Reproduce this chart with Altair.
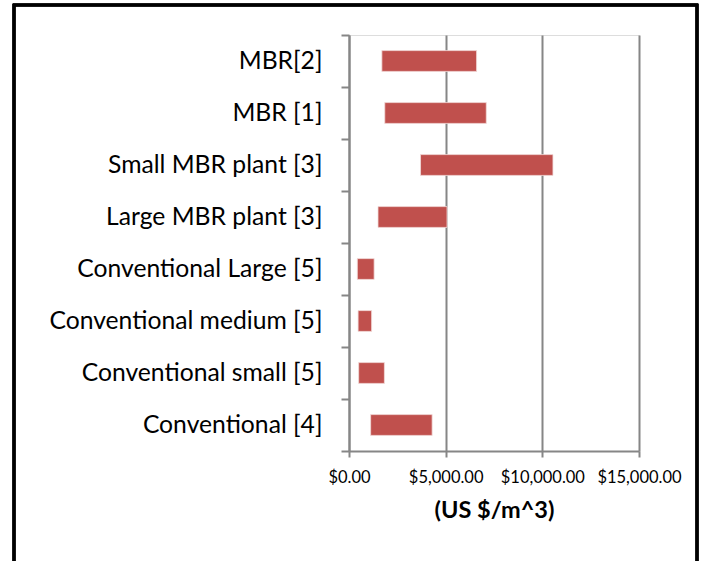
import altair as alt
import pandas as pd

# Capital cost ranges per plant type (US $/m^3)
categories = [
    "MBR[2]",
    "MBR [1]",
    "Small MBR plant [3]",
    "Large MBR plant [3]",
    "Conventional Large [5]",
    "Conventional medium [5]",
    "Conventional small [5]",
    "Conventional [4]",
]
cost_low = [1700, 1850, 3700, 1500, 430, 470, 500, 1120]
cost_high = [6600, 7100, 10550, 5070, 1300, 1170, 1830, 4300]

df = pd.DataFrame({"plant": categories, "low": cost_low, "high": cost_high})

FONT = "Lato"
GREY = "#868686"

bars = alt.Chart(df).mark_bar(
    color="#C0504D",
    stroke="#F2DCDB",
    strokeWidth=0.8,
    height=alt.RelativeBandSize(0.4),
).encode(
    y=alt.Y(
        "plant:N",
        sort=categories,
        scale=alt.Scale(paddingInner=0, paddingOuter=0),
        axis=alt.Axis(
            title=None,
            tickBand="extent",
            tickSize=8,
            tickColor=GREY,
            tickWidth=2,
            domainColor=GREY,
            domainWidth=2,
            labelFont=FONT,
            labelFontSize=24.7,
            labelColor="#000000",
            labelPadding=19,
            labelLimit=400,
            grid=False,
        ),
    ),
    x=alt.X(
        "low:Q",
        scale=alt.Scale(domain=[0, 15000], nice=False),
        axis=alt.Axis(
            title="(US $/m^3)",
            values=[0, 5000, 10000, 15000],
            format="$,.2f",
            tickSize=6,
            tickColor=GREY,
            tickWidth=2,
            domainColor=GREY,
            domainWidth=2,
            grid=True,
            gridColor=GREY,
            gridWidth=2,
            labelFont=FONT,
            labelFontSize=16.5,
            labelColor="#000000",
            labelPadding=12,
            labelOverlap=False,
            labelFlush=False,
            titleFont=FONT,
            titleFontSize=23.5,
            titleFontWeight="bold",
            titleColor="#000000",
            titlePadding=13,
        ),
    ),
    x2="high:Q",
)

# Outer frame around the whole figure
frame = alt.Chart(df).mark_rect(
    fill=None, stroke="#000000", strokeWidth=2.5, clip=False
).encode(
    x=alt.value(-335),
    x2=alt.value(348),
    y=alt.value(-30),
    y2=alt.value(540),
)

chart = alt.layer(bars, frame).properties(
    width=290,
    height=416,
    padding={"left": 349, "top": 35, "right": 67, "bottom": 110},
    autosize=alt.AutoSizeParams(type="none"),
).configure_view(stroke=None).configure(background="#ffffff")

chart.save("out.html", embed_options={"renderer": "svg", "actions": False})
